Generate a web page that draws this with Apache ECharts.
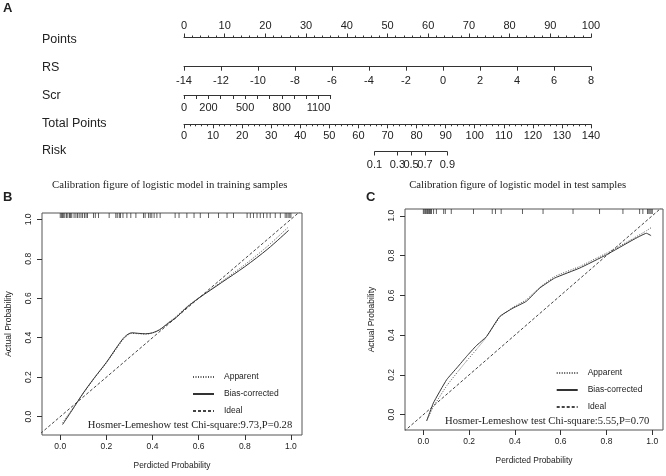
<!DOCTYPE html>
<html><head><meta charset="utf-8">
<script src="https://cdn.jsdelivr.net/npm/echarts@6/dist/echarts.min.js"></script>
<style>html,body{margin:0;padding:0;background:#fff}#c{width:666px;height:476px}</style>
</head><body><div id="c"></div>
<script>
// ---------- Nomogram (panel A) ----------
const rowLabels = ['Points', 'RS', 'Scr', 'Total Points', 'Risk'];
const pointsRange = [0, 100];
const rsRange = [-14, 8];
const scrRange = [0, 1200];
const scrLabels = [0, 200, 500, 800, 1100];
const totalRange = [0, 140];
const riskLabels = [0.1, 0.3, 0.5, 0.7, 0.9];
const riskTotalPoints = [65.5, 73.4, 78.1, 82.9, 90.6];

// ---------- Calibration, training samples (panel B) ----------
const calTicks = [0, 0.2, 0.4, 0.6, 0.8, 1.0];
const idealX = [-0.2, 1.2];
const trainApparentX = [0.01, 0.05, 0.1, 0.15, 0.2, 0.25, 0.28, 0.31, 0.34, 0.37, 0.4, 0.43, 0.47, 0.5, 0.55, 0.6, 0.65, 0.7, 0.8, 0.9, 0.99];
const trainApparentY = [-0.03, 0.035, 0.118, 0.198, 0.272, 0.355, 0.4, 0.422, 0.42, 0.418, 0.424, 0.44, 0.478, 0.505, 0.558, 0.602, 0.643, 0.685, 0.77, 0.865, 0.962];
const trainBiasX = [0.01, 0.05, 0.1, 0.15, 0.2, 0.25, 0.28, 0.31, 0.34, 0.37, 0.4, 0.43, 0.47, 0.5, 0.55, 0.6, 0.65, 0.7, 0.8, 0.9, 0.99];
const trainBiasY = [-0.04, 0.03, 0.12, 0.2, 0.275, 0.36, 0.405, 0.425, 0.422, 0.42, 0.425, 0.44, 0.475, 0.5, 0.555, 0.6, 0.64, 0.68, 0.76, 0.85, 0.944];
const trainRug = [0.0, 0.005, 0.01, 0.015, 0.02, 0.027, 0.033, 0.04, 0.045, 0.05, 0.06, 0.068, 0.075, 0.082, 0.09, 0.097, 0.105, 0.112, 0.118, 0.144, 0.152, 0.166, 0.212, 0.241, 0.247, 0.256, 0.261, 0.272, 0.289, 0.306, 0.328, 0.361, 0.368, 0.383, 0.39, 0.397, 0.407, 0.419, 0.433, 0.498, 0.515, 0.549, 0.58, 0.607, 0.643, 0.686, 0.723, 0.751, 0.81, 0.824, 0.838, 0.853, 0.867, 0.881, 0.896, 0.91, 0.932, 0.954, 0.975, 0.982, 0.988, 0.995, 1.0];

// ---------- Calibration, test samples (panel C) ----------
const testApparentX = [0.015, 0.044, 0.102, 0.15, 0.189, 0.23, 0.276, 0.334, 0.392, 0.45, 0.509, 0.574, 0.683, 0.8, 0.916, 0.975, 0.995];
const testApparentY = [-0.03, 0.04, 0.145, 0.215, 0.27, 0.325, 0.39, 0.49, 0.54, 0.578, 0.64, 0.695, 0.745, 0.812, 0.885, 0.925, 0.94];
const testBiasX = [0.015, 0.044, 0.102, 0.15, 0.189, 0.23, 0.276, 0.334, 0.392, 0.45, 0.509, 0.574, 0.683, 0.8, 0.916, 0.975, 0.995];
const testBiasY = [-0.03, 0.059, 0.176, 0.24, 0.293, 0.345, 0.393, 0.494, 0.536, 0.57, 0.637, 0.687, 0.737, 0.804, 0.879, 0.912, 0.9];
const testRug = [0.0, 0.004, 0.009, 0.013, 0.018, 0.022, 0.027, 0.031, 0.036, 0.045, 0.057, 0.089, 0.096, 0.122, 0.219, 0.301, 0.315, 0.34, 0.433, 0.523, 0.654, 0.77, 0.872, 0.945, 0.959, 0.979, 0.985, 0.99, 0.995, 1.0];

const legendNames = ['Apparent', 'Bias-corrected', 'Ideal'];
const hlTrain = 'Hosmer-Lemeshow test Chi-square:9.73,P=0.28';
const hlTest = 'Hosmer-Lemeshow test Chi-square:5.55,P=0.70';
const titleTrain = 'Calibration figure of logistic model in training samples';
const titleTest = 'Calibration figure of logistic model in test samples';

// ---------- styling ----------
const SANS = '"Liberation Sans", Arial, sans-serif';
const SERIF = '"Liberation Serif", "Times New Roman", serif';
const INK = '#222';
const AXC = '#333';

const calB = { xMin: -0.079, xMax: 1.048, yMin: -0.093, yMax: 1.032, smooth: 0.3 };
const calC = { xMin: -0.08, xMax: 1.047, yMin: -0.077, yMax: 1.034, smooth: 0.12 };

function zip(xs, ys) { return xs.map((x, i) => [x, ys[i]]); }

function nomoAxis(idx, range, opts) {
  return {
    gridIndex: idx, type: 'value', min: range[0], max: range[1],
    position: opts.position || 'bottom',
    interval: opts.interval,
    axisLine: { show: opts.line !== false, onZero: false, lineStyle: { color: AXC, width: 1 } },
    axisTick: Object.assign({ show: true, inside: false, length: 4, lineStyle: { color: AXC, width: 1 } }, opts.tick || {}),
    minorTick: opts.minor ? { show: true, splitNumber: opts.minor, length: 2, lineStyle: { color: AXC, width: 1 } } : { show: false },
    axisLabel: Object.assign({ show: true, color: INK, fontSize: 11, fontFamily: SANS, margin: opts.margin, formatter: v => String(v) }, opts.label || {}),
    splitLine: { show: false }, minorSplitLine: { show: false }
  };
}

function calXAxis(idx, c) {
  return {
    gridIndex: idx, type: 'value', min: c.xMin, max: c.xMax, position: 'bottom',
    axisLine: { show: false, onZero: false },
    axisTick: { show: true, inside: false, length: 5, customValues: calTicks, lineStyle: { color: AXC } },
    axisLabel: { customValues: calTicks, formatter: v => v.toFixed(1), color: INK, fontSize: 8.5, fontFamily: SANS, margin: 7 },
    splitLine: { show: false },
    name: 'Perdicted Probability', nameLocation: 'middle', nameGap: 27,
    nameTextStyle: { color: INK, fontSize: 8.4, fontFamily: SANS }
  };
}
function calYAxis(idx, c) {
  return {
    gridIndex: idx, type: 'value', min: c.yMin, max: c.yMax, position: 'left',
    axisLine: { show: false, onZero: false },
    axisTick: { show: true, inside: false, length: 5, customValues: calTicks, lineStyle: { color: AXC } },
    axisLabel: { customValues: calTicks, formatter: v => v.toFixed(1), rotate: 90, color: INK, fontSize: 8.5, fontFamily: SANS, margin: 9 },
    splitLine: { show: false },
    name: 'Actual Probability', nameLocation: 'middle', nameGap: 29,
    nameTextStyle: { color: INK, fontSize: 8.5, fontFamily: SANS }
  };
}
function calSeries(xi, c, apX, apY, bcX, bcY, rug) {
  return [
    { type: 'line', name: 'Apparent', xAxisIndex: xi, yAxisIndex: xi, data: zip(apX, apY), symbol: 'none', smooth: c.smooth,
      color: '#555', lineStyle: { color: '#555', width: 1, type: [1, 1.5] }, silent: true, z: 3 },
    { type: 'line', name: 'Bias-corrected', xAxisIndex: xi, yAxisIndex: xi, data: zip(bcX, bcY), symbol: 'none', smooth: c.smooth,
      color: '#333', lineStyle: { color: '#333', width: 1, type: 'solid' }, silent: true, z: 3 },
    { type: 'line', name: 'Ideal', xAxisIndex: xi, yAxisIndex: xi, data: idealX.map(v => [v, v]), symbol: 'none',
      color: '#444', lineStyle: { color: '#444', width: 1, type: [3, 2] }, silent: true, z: 2 },
    { type: 'scatter', xAxisIndex: xi, yAxisIndex: xi, data: rug.map(v => [v, c.yMax]), symbol: 'rect', symbolSize: [0.9, 5],
      symbolOffset: [0, 2.5], itemStyle: { color: '#222' }, clip: false, silent: true, z: 4 }
  ];
}
function calLegend(left, top) {
  return {
    data: legendNames, orient: 'vertical', left: left, top: top, padding: 0,
    itemWidth: 21, itemHeight: 10, itemGap: 7, selectedMode: false,
    itemStyle: { opacity: 0 },
    textStyle: { color: INK, fontSize: 8.5, fontFamily: SANS, lineHeight: 10, padding: [0, 0, 0, 5] }
  };
}
function txt(text, x, y, font, align) {
  return { type: 'text', x: x, y: y, silent: true,
    style: { text: text, font: font, fill: INK, textAlign: align || 'left', textVerticalAlign: 'middle', align: align || 'left', verticalAlign: 'middle' } };
}

const chart = echarts.init(document.getElementById('c'), null, { renderer: 'canvas' });
const option = {
  animation: false,
  backgroundColor: '#fff',
  grid: [
    { left: 184, top: 37.5, width: 407, height: 1 },
    { left: 184, top: 65.7, width: 407, height: 1 },
    { left: 184, top: 94, width: 146.7, height: 1 },
    { left: 184, top: 123.3, width: 407, height: 1 },
    { left: 184, top: 150.5, width: 407, height: 1 },
    { left: 42, top: 213, width: 260, height: 222, show: true, borderColor: '#555', borderWidth: 1 },
    { left: 405, top: 209, width: 258, height: 221, show: true, borderColor: '#555', borderWidth: 1 }
  ],
  xAxis: [
    nomoAxis(0, pointsRange, { position: 'top', interval: 10, minor: 5, margin: 6, tick: { length: 4 } }),
    nomoAxis(1, rsRange, { interval: 2, margin: 8.5 }),
    nomoAxis(2, scrRange, { interval: 100, margin: 7.5, label: { customValues: scrLabels } }),
    nomoAxis(3, totalRange, { interval: 10, minor: 5, margin: 6.5 }),
    nomoAxis(4, totalRange, { line: false, margin: 8,
      tick: { customValues: riskTotalPoints },
      label: { customValues: riskTotalPoints, formatter: v => String(riskLabels[riskTotalPoints.indexOf(v)]) } }),
    calXAxis(5, calB),
    calXAxis(6, calC)
  ],
  yAxis: [
    { gridIndex: 0, show: false, min: 0, max: 1 },
    { gridIndex: 1, show: false, min: 0, max: 1 },
    { gridIndex: 2, show: false, min: 0, max: 1 },
    { gridIndex: 3, show: false, min: 0, max: 1 },
    { gridIndex: 4, show: false, min: 0, max: 1 },
    calYAxis(5, calB),
    calYAxis(6, calC)
  ],
  legend: [calLegend(192, 372), calLegend(555.7, 368)],
  series: [
    { type: 'line', xAxisIndex: 4, yAxisIndex: 4, data: [[riskTotalPoints[0], 0], [riskTotalPoints[riskTotalPoints.length - 1], 0]],
      symbol: 'none', lineStyle: { color: AXC, width: 1 }, silent: true }
  ].concat(
    calSeries(5, calB, trainApparentX, trainApparentY, trainBiasX, trainBiasY, trainRug),
    calSeries(6, calC, testApparentX, testApparentY, testBiasX, testBiasY, testRug)
  ),
  graphic: [
    txt('A', 3, 8.5, 'bold 13px ' + SANS),
    txt(rowLabels[0], 42, 39.3, '12.5px ' + SANS),
    txt(rowLabels[1], 42, 67.7, '12.5px ' + SANS),
    txt(rowLabels[2], 42, 95.7, '12.5px ' + SANS),
    txt(rowLabels[3], 42, 123.3, '12.5px ' + SANS),
    txt(rowLabels[4], 42, 151, '12.5px ' + SANS),
    txt(titleTrain, 169.7, 185, '10.7px ' + SERIF, 'center'),
    txt(titleTest, 517.7, 185, '10.7px ' + SERIF, 'center'),
    txt('B', 3, 197, 'bold 13px ' + SANS),
    txt('C', 366, 197, 'bold 13px ' + SANS),
    txt(hlTrain, 190, 425, '10.6px ' + SERIF, 'center'),
    txt(hlTest, 547.2, 421, '10.6px ' + SERIF, 'center')
  ]
};
chart.setOption(option);
</script>
</body></html>
